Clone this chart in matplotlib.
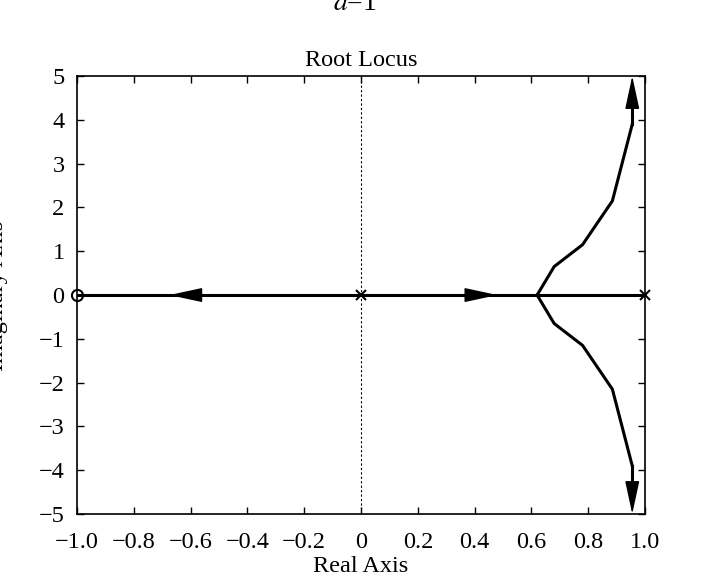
import matplotlib
matplotlib.use("Agg")
import matplotlib.pyplot as plt
import numpy as np

plt.rcParams['font.family'] = ['Liberation Serif', 'DejaVu Serif']
plt.rcParams['mathtext.fontset'] = 'stix'

# data
poles_x = [0.0, 1.0]
zeros_x = [-1.0]
real_axis_x = [-1.0, 1.0]
branch_x = [0.62, 0.68, 0.78, 0.885, 0.955, 0.955]
branch_y = [0.0, 0.65, 1.15, 2.15, 3.9, 5.0]
# arrows along real axis: (tail, head)
arrow_left = (-0.59, -0.675)
arrow_right = (0.40, 0.48)
xticks = [-1.0, -0.8, -0.6, -0.4, -0.2, 0.0, 0.2, 0.4, 0.6, 0.8, 1.0]
xticklabels = ['\u22121.0', '\u22120.8', '\u22120.6', '\u22120.4', '\u22120.2', '0',
               '0.2', '0.4', '0.6', '0.8', '1.0']
yticks = [-5, -4, -3, -2, -1, 0, 1, 2, 3, 4, 5]
yticklabels = ['\u22125', '\u22124', '\u22123', '\u22122', '\u22121', '0', '1', '2', '3', '4', '5']

fig = plt.figure(figsize=(7.1, 5.8), dpi=100)
ax = fig.add_axes([0.1085, 0.1138, 0.800, 0.755])

lw = 2.2
ax.axvline(0, color='black', lw=0.8, ls=(0, (2, 2)), zorder=1)
ax.plot(real_axis_x, [0, 0], color='black', lw=lw, zorder=2)
bx = np.array(branch_x)
by = np.array(branch_y)
ax.plot(bx[:-1], by[:-1], color='black', lw=lw, zorder=2)
ax.plot(bx[:-1], -by[:-1], color='black', lw=lw, zorder=2)

arrow_kw = dict(arrowstyle='-|>,head_length=1.3,head_width=0.28', color='black',
                lw=1.0, shrinkA=0, shrinkB=0, mutation_scale=16)
ax.annotate('', xy=(bx[-1], by[-1]), xytext=(bx[-2], by[-2]), arrowprops=arrow_kw, zorder=3)
ax.annotate('', xy=(bx[-1], -by[-1]), xytext=(bx[-2], -by[-2]), arrowprops=arrow_kw, zorder=3)
ax.plot([bx[-2], bx[-2]], [by[-2], by[-2] + 0.5], color='black', lw=lw, zorder=2)
ax.plot([bx[-2], bx[-2]], [-by[-2], -by[-2] - 0.5], color='black', lw=lw, zorder=2)
ax.annotate('', xy=(arrow_left[1], 0), xytext=(arrow_left[0], 0), arrowprops=arrow_kw, zorder=3)
ax.annotate('', xy=(arrow_right[1], 0), xytext=(arrow_right[0], 0), arrowprops=arrow_kw, zorder=3)

ax.plot(poles_x, [0] * len(poles_x), 'x', color='black', ms=7, mew=1.5, zorder=4, clip_on=False)
ax.plot(zeros_x, [0] * len(zeros_x), 'o', mfc='none', mec='black', ms=8, mew=1.5, zorder=4, clip_on=False)

ax.set_xlim(-1.0, 1.0)
ax.set_ylim(-5, 5)
ax.set_xticks(xticks)
ax.set_xticklabels(xticklabels)
ax.set_yticks(yticks)
ax.set_yticklabels(yticklabels)
ax.tick_params(direction='in', top=True, right=True, length=5, width=1, labelsize=17.5)
ax.tick_params(axis='x', pad=13)
ax.tick_params(axis='y', pad=9)
for s in ax.spines.values():
    s.set_linewidth(1.2)

ax.set_title('Root Locus', fontsize=17.5, pad=7)
ax.set_xlabel('Real Axis', fontsize=17.5, labelpad=2)
fig.text(8 / 710, 0.49, 'Imaginary Axis', rotation=90, ha='right', va='center', fontsize=17.5)
fig.text(0.5, 1 - 10 / 580, r'$a$=1', ha='center', va='baseline', fontsize=20)

fig.savefig('out.png', dpi=100)
